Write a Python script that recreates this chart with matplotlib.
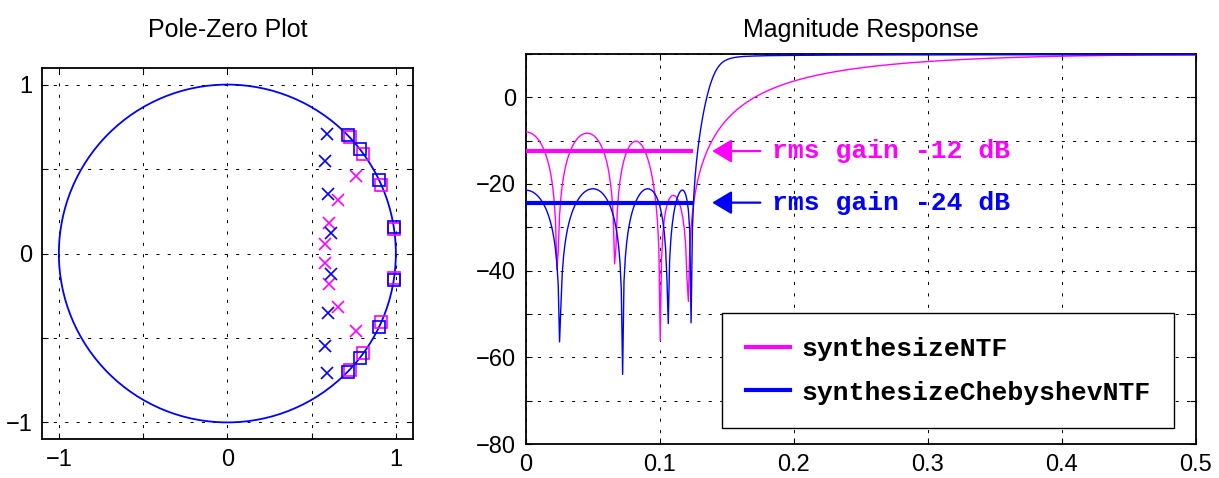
import numpy as np
import matplotlib
matplotlib.use('Agg')
import matplotlib.pyplot as plt
from matplotlib.patches import Circle
from matplotlib.lines import Line2D

# ---------------- data ----------------
series_names = ['synthesizeNTF', 'synthesizeChebyshevNTF']
series_colors = ['#ff00ff', '#0000ff']

# poles (upper half plane; conjugates are added)
ntf_pole_re = [0.763, 0.657, 0.602, 0.582]
ntf_pole_im = [0.457, 0.319, 0.181, 0.055]
cheb_pole_re = [0.592, 0.578, 0.598, 0.617]
cheb_pole_im = [0.709, 0.547, 0.350, 0.122]

# zeros on the unit circle, given as normalised frequencies
ntf_zero_f = [0.02343, 0.06653, 0.1003, 0.12089]
cheb_zero_f = [0.02533, 0.07205, 0.10598, 0.12333]

rms_gain_db = [-12.4, -24.3]
rms_labels = ['rms gain -12 dB', 'rms gain -24 dB']
band_edge = 0.125

pz_ticks = [-1, -0.5, 0, 0.5, 1]
pz_ticklabels = ['\u22121', '', '0', '', '1']
mag_xticks = [0, 0.1, 0.2, 0.3, 0.4, 0.5]
mag_xticklabels = ['0', '0.1', '0.2', '0.3', '0.4', '0.5']
mag_yticks = [-80, -70, -60, -50, -40, -30, -20, -10, 0, 10]
mag_yticklabels = ['\u221280', '', '\u221260', '', '\u221240', '', '\u221220', '', '0', '']

n_freq = 500

# ---------------- helpers ----------------
def build(pre, pim, zf):
    p = np.array(pre) + 1j * np.array(pim)
    poles = np.concatenate([p, np.conj(p)])
    z = np.exp(2j * np.pi * np.array(zf))
    zeros = np.concatenate([z, np.conj(z)])
    return poles, zeros

def mag_db(poles, zeros, f):
    zz = np.exp(2j * np.pi * f)
    num = np.prod(zz[:, None] - zeros[None, :], axis=1)
    den = np.prod(zz[:, None] - poles[None, :], axis=1)
    return 20 * np.log10(np.abs(num / den))

systems = [build(ntf_pole_re, ntf_pole_im, ntf_zero_f),
           build(cheb_pole_re, cheb_pole_im, cheb_zero_f)]

plt.rcParams['font.family'] = ['Liberation Sans', 'DejaVu Sans']
plt.rcParams['lines.scale_dashes'] = False
mono = ['Liberation Mono', 'DejaVu Sans Mono']

W, H = 1219, 478
fig = plt.figure(figsize=(W / 100, H / 100), dpi=100)

def px_axes(l, t, r, b):
    return fig.add_axes([l / W, 1 - b / H, (r - l) / W, (b - t) / H])

grid_ls = (0, (2.2, 6.0))

def style(ax):
    for s in ax.spines.values():
        s.set_linewidth(1.3)
        s.set_color('black')
    ax.tick_params(direction='in', length=4, width=0.8, labelsize=17,
                   top=True, right=True, pad=7)
    ax.grid(True, color='black', linestyle=grid_ls, linewidth=0.7)
    ax.set_axisbelow(True)

# ---------------- pole-zero plot ----------------
ax1 = px_axes(42, 67.7, 412.7, 439.3)
ax1.add_patch(Circle((0, 0), 1, fill=False, edgecolor='#0000ff', linewidth=1.3, zorder=3))
for (poles, zeros), c in zip(systems, series_colors):
    ax1.plot(poles.real, poles.imag, linestyle='none', marker='x', color=c,
             markersize=8.5, markeredgewidth=1.2, zorder=4)
    ax1.plot(zeros.real, zeros.imag, linestyle='none', marker='s', color=c,
             markerfacecolor='none', markersize=8.5, markeredgewidth=1.2, zorder=4)
ax1.set_xlim(-1.1, 1.1)
ax1.set_ylim(-1.1, 1.1)
ax1.set_xticks(pz_ticks)
ax1.set_xticklabels(pz_ticklabels)
ax1.set_yticks(pz_ticks)
ax1.set_yticklabels(pz_ticklabels)
style(ax1)
ax1.set_title('Pole-Zero Plot', fontsize=18, pad=22)

# ---------------- magnitude response ----------------
ax2 = px_axes(526, 54, 1195.7, 444)
f = np.linspace(0, 0.5, n_freq)
for (poles, zeros), c in zip(systems, series_colors):
    ax2.plot(f, mag_db(poles, zeros, f), color=c, linewidth=1.0, zorder=3)
for g, c in zip(rms_gain_db, series_colors):
    ax2.plot([0, band_edge], [g, g], color=c, linewidth=3, zorder=4, solid_capstyle='butt')
for g, c, lab in zip(rms_gain_db, series_colors, rms_labels):
    ax2.annotate('', xy=(0.139, g), xytext=(0.175, g),
                 arrowprops=dict(arrowstyle='-|>,head_length=0.6,head_width=0.36',
                                 color=c, lw=1.6, shrinkA=0, shrinkB=0,
                                 mutation_scale=20), zorder=5)
    ax2.text(0.184, g, lab, color=c, fontsize=19, fontfamily=mono,
             fontweight='bold', va='center', ha='left', zorder=5)

ax2.set_xlim(0, 0.5)
ax2.set_ylim(-80, 10)
ax2.set_xticks(mag_xticks)
ax2.set_xticklabels(mag_xticklabels)
ax2.set_yticks(mag_yticks)
ax2.set_yticklabels(mag_yticklabels)
style(ax2)
ax2.set_title('Magnitude Response', fontsize=18, pad=12)

handles = [Line2D([], [], color=c, linewidth=3) for c in series_colors]
leg = ax2.legend(handles, series_names, loc='lower right',
                 bbox_to_anchor=(0.9676, 0.0403), borderaxespad=0,
                 prop={'family': mono, 'weight': 'bold', 'size': 19},
                 fancybox=False, framealpha=1, edgecolor='black',
                 borderpad=0.9, handlelength=1.7, handletextpad=0.4,
                 labelspacing=0.75)
leg.get_frame().set_linewidth(1.0)
leg.set_zorder(6)

fig.savefig('out.png', dpi=100, facecolor='white')
